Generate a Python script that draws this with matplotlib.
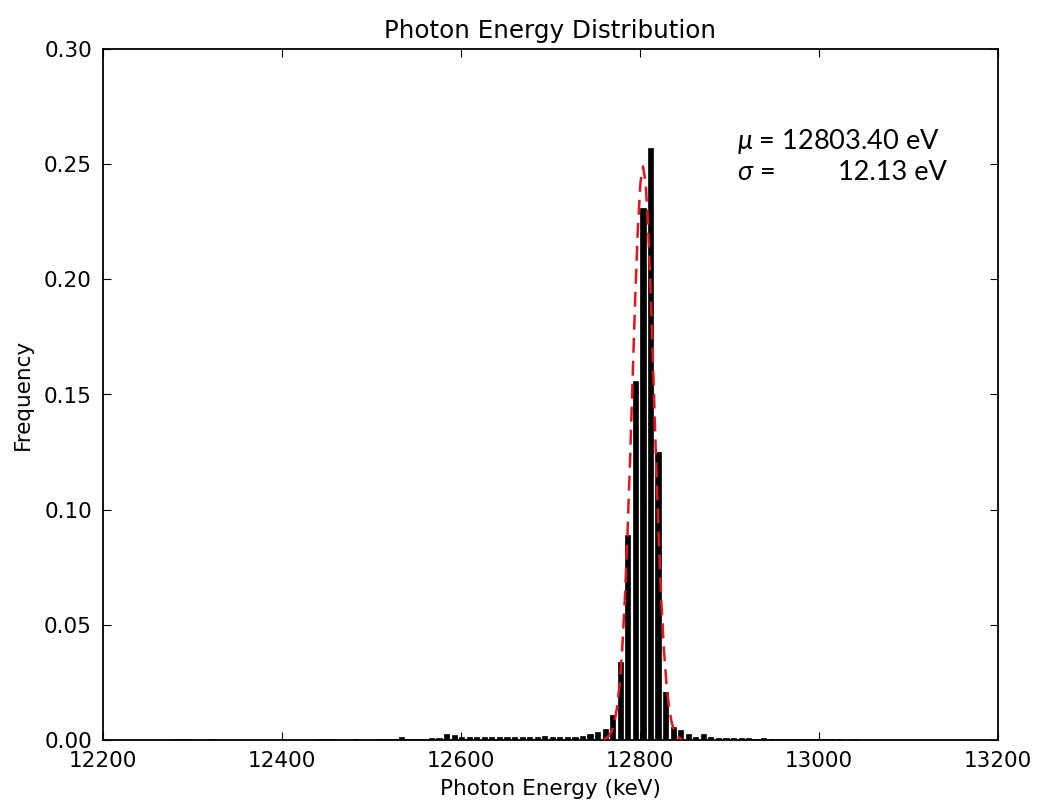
import numpy as np
import matplotlib
matplotlib.use("Agg")
import matplotlib.pyplot as plt

# ---- data ----
first_bin_center = 12280.0   # keV
bin_width = 8.44             # keV
frequency = [
    0.0004, 0.0004, 0.0003, 0.0, 0.0, 0.0003, 0.0, 0.0, 0.0, 0.0,
    0.0, 0.0, 0.0, 0.0, 0.0, 0.0, 0.0, 0.0, 0.0, 0.0003,
    0.0003, 0.0003, 0.0, 0.0, 0.0003, 0.0, 0.0, 0.0003, 0.0004, 0.0004,
    0.0012, 0.0005, 0.0005, 0.0005, 0.0007, 0.0010, 0.0026, 0.0022, 0.0014, 0.0012,
    0.0012, 0.0012, 0.0012, 0.0012, 0.0012, 0.0012, 0.0013, 0.0012, 0.0013, 0.0017,
    0.0015, 0.0015, 0.0014, 0.0015, 0.0017, 0.0026, 0.0036, 0.0048, 0.011, 0.034,
    0.089, 0.156, 0.231, 0.257, 0.125, 0.021, 0.0057, 0.0042, 0.0027, 0.0015,
    0.0025, 0.0013, 0.0010, 0.0009, 0.0008, 0.0008, 0.0007, 0.0006, 0.0007, 0.0005,
    0.0005, 0.0004, 0.0004, 0.0004, 0.0004, 0.0003, 0.0004, 0.0003, 0.0003, 0.0002,
    0.0003, 0.0002, 0.0002,
]
mu = 12803.40      # eV (as annotated)
sigma = 12.13      # eV
fit_peak = 0.249   # read height of the dashed fit curve

x_ticks = [12200, 12400, 12600, 12800, 13000, 13200]
y_ticks = [0.00, 0.05, 0.10, 0.15, 0.20, 0.25, 0.30]

# ---- figure ----
plt.rcParams['mathtext.fontset'] = 'custom'
plt.rcParams['mathtext.it'] = 'Lato:italic'
plt.rcParams['mathtext.rm'] = 'Lato'

fig = plt.figure(figsize=(10.39, 8.05), dpi=100)
ax = fig.add_axes([103/1039, 65/805, (998-103)/1039, (740-49)/805])

centers = first_bin_center + bin_width * np.arange(len(frequency))
ax.bar(centers, frequency, width=bin_width * 0.68, color='black',
       edgecolor='black', linewidth=0.5, align='center', zorder=2)

xf = np.linspace(mu - 3.6 * sigma, mu + 3.6 * sigma, 31)
yf = fit_peak * np.exp(-(xf - mu) ** 2 / (2 * sigma ** 2))
ax.plot(xf, yf, color='#e8141c', linewidth=1.8, linestyle=(0, (6, 3.2)), zorder=3)

ax.set_xlim(12200, 13200)
ax.set_ylim(0, 0.30)
ax.set_xticks(x_ticks)
ax.set_yticks(y_ticks)
ax.set_yticklabels([f"{v:.2f}" for v in y_ticks])
ax.tick_params(direction='in', top=True, right=True, length=6, width=0.8,
               labelsize=15.5, pad=8)
for s in ax.spines.values():
    s.set_linewidth(1.3)

ax.set_title("Photon Energy Distribution", fontsize=17.7, pad=8)
ax.set_xlabel("Photon Energy (keV)", fontsize=15.5, labelpad=6)
ax.set_ylabel("Frequency", fontsize=15.5, labelpad=8)

fig.text(737/1039, 1 - 142/805, r"$\mu$ = 12803.40 eV", family='Lato',
         fontsize=19.5, ha='left', va='center')
fig.text(737/1039, 1 - 173/805, r"$\sigma$ =", family='Lato',
         fontsize=19.5, ha='left', va='center')
fig.text(947/1039, 1 - 173/805, "12.13 eV", family='Lato',
         fontsize=19.5, ha='right', va='center')

fig.savefig("out.png", dpi=100)
